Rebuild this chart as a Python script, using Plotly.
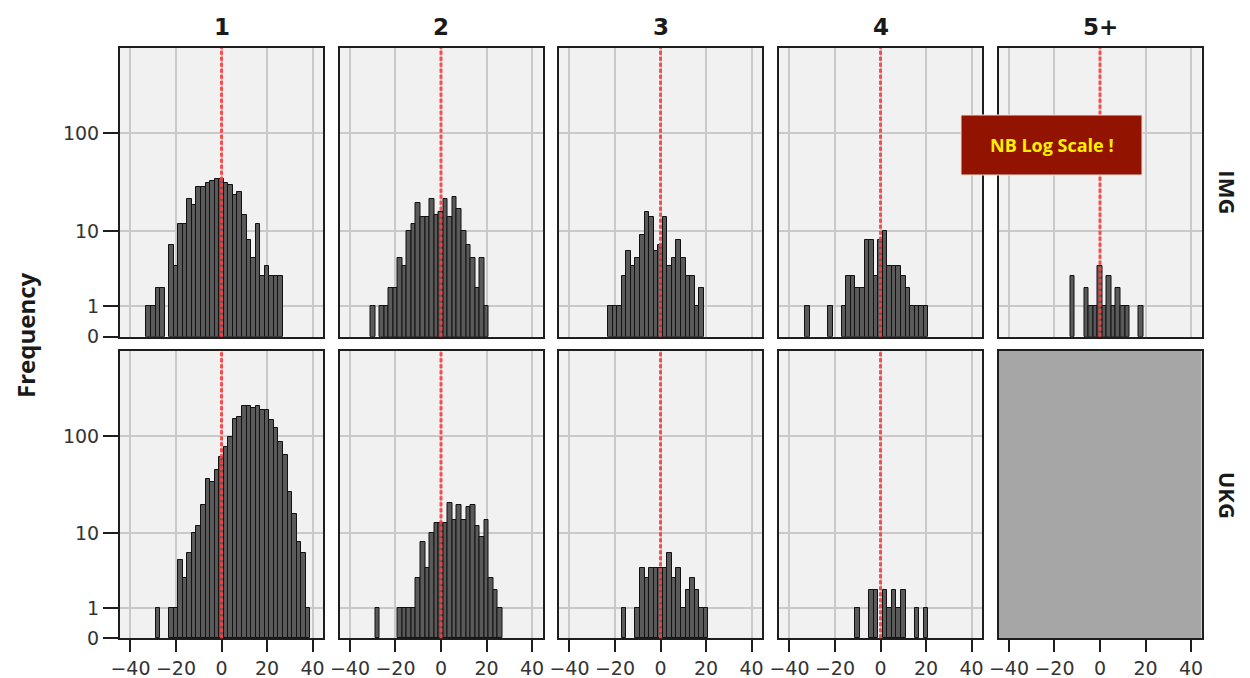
import plotly.graph_objects as go

# ---------------- data ----------------
BIN_CENTERS = list(range(-32, 40, 2))  # -32 .. 38, bin width 2

def counts(d):
    return [d.get(c, 0) for c in BIN_CENTERS]

IMG_1 = counts({-32: 1, -30: 1, -28: 2, -26: 2, -22: 7, -20: 4, -18: 12, -16: 12, -14: 22,
                -12: 19, -10: 29, -8: 29, -6: 32, -4: 33, -2: 35, 0: 35, 2: 32, 4: 30, 6: 24,
                8: 26, 10: 15, 12: 8, 14: 5, 16: 12, 18: 3, 20: 4, 22: 3, 24: 3, 26: 3})
IMG_2 = counts({-30: 1, -26: 1, -24: 1, -22: 2, -20: 2, -18: 5, -16: 4, -14: 10, -12: 12,
                -10: 20, -8: 14, -6: 14, -4: 22, -2: 15, 0: 16, 2: 22, 4: 14, 6: 23, 8: 17,
                10: 10, 12: 7, 14: 5, 16: 2, 18: 5, 20: 1})
IMG_3 = counts({-22: 1, -20: 1, -18: 1, -16: 3, -14: 6, -12: 4, -10: 5, -8: 9, -6: 16, -4: 14,
                -2: 6, 0: 7, 2: 14, 4: 4, 6: 5, 8: 8, 10: 5, 12: 3, 14: 3, 16: 1, 18: 2})
IMG_4 = counts({-32: 1, -22: 1, -16: 1, -14: 3, -12: 3, -10: 2, -8: 2, -6: 8, -4: 8, -2: 3,
                0: 8, 2: 10, 4: 4, 6: 4, 8: 4, 10: 3, 12: 2, 14: 1, 16: 1, 18: 1, 20: 1})
IMG_5 = counts({-12: 3, -6: 2, -4: 1, -2: 1, 0: 4, 2: 1, 4: 3, 6: 1, 8: 2, 10: 1, 12: 1, 18: 1})

UKG_1 = counts({-28: 1, -22: 1, -20: 1, -18: 5, -16: 3, -14: 6, -12: 10, -10: 12, -8: 20,
                -6: 37, -4: 34, -2: 46, 0: 61, 2: 78, 4: 98, 6: 148, 8: 155, 10: 200, 12: 200,
                14: 190, 16: 200, 18: 180, 20: 180, 22: 145, 24: 120, 26: 87, 28: 64, 30: 27,
                32: 16, 34: 8, 36: 6, 38: 1})
UKG_2 = counts({-28: 1, -18: 1, -16: 1, -14: 1, -12: 1, -10: 3, -8: 8, -6: 4, -4: 10, -2: 13,
                0: 13, 2: 13, 4: 21, 6: 14, 8: 20, 10: 14, 12: 19, 14: 20, 16: 12, 18: 9,
                20: 14, 22: 3, 24: 2, 26: 1})
UKG_3 = counts({-16: 1, -10: 1, -8: 4, -6: 3, -4: 4, -2: 4, 0: 4, 2: 4, 4: 6, 6: 3, 8: 4,
                10: 1, 12: 2, 14: 3, 16: 2, 18: 1, 20: 1})
UKG_4 = counts({-10: 1, -4: 2, -2: 2, 2: 2, 4: 1, 6: 2, 8: 1, 10: 2, 16: 1, 20: 1})
UKG_5 = None  # no data (greyed panel)

COLUMNS = ["1", "2", "3", "4", "5+"]
ROWS = ["IMG", "UKG"]
PANELS = [[IMG_1, IMG_2, IMG_3, IMG_4, IMG_5],
          [UKG_1, UKG_2, UKG_3, UKG_4, UKG_5]]

X_TICKS = [-40, -20, 0, 20, 40]
Y_TICKVALS = [1, 2, 11, 101]          # count + 1 on a log axis
Y_TICKTEXT = ["0", "1", "10", "100"]
REF_X = 0
NOTE = "NB Log Scale !"

# ---------------- layout geometry ----------------
W, H = 1250, 678
col_left = [120, 339.5, 559, 779, 998.5]
col_w = 203
row_top = [48, 351]
row_bot = [336.7, 638.3]

FRAME = "#1e1e1e"
GRID = "#c9c9c9"
BG = "#f1f1f1"
BAR = "#5a5a5a"
TICKFONT = dict(family="DejaVu Sans", size=19, color="#333333")

fig = go.Figure()

for r in range(2):
    for c in range(5):
        idx = r * 5 + c + 1
        xa = "x" if idx == 1 else f"x{idx}"
        ya = "y" if idx == 1 else f"y{idx}"
        xkey = "xaxis" if idx == 1 else f"xaxis{idx}"
        ykey = "yaxis" if idx == 1 else f"yaxis{idx}"
        data = PANELS[r][c]
        empty = data is None

        if not empty:
            xs = [b for b, v in zip(BIN_CENTERS, data) if v > 0]
            ys = [v for v in data if v > 0]
            fig.add_trace(go.Bar(
                x=xs, y=ys, base=1, width=2,
                marker=dict(color=BAR, line=dict(color="#111111", width=1)),
                xaxis=xa, yaxis=ya, showlegend=False, hoverinfo="skip"))
        else:
            fig.add_trace(go.Bar(x=[], y=[], xaxis=xa, yaxis=ya, showlegend=False))

        x0 = col_left[c] / W
        x1 = (col_left[c] + col_w) / W
        y0 = (H - row_bot[r]) / H
        y1 = (H - row_top[r]) / H

        fig.layout[xkey] = dict(
            domain=[x0, x1], range=[-44.6, 44.6], anchor=ya, automargin=False,
            tickvals=X_TICKS, showgrid=not empty, gridcolor=GRID, gridwidth=2,
            zeroline=False, showline=True, mirror=True, linecolor=FRAME, linewidth=2,
            ticks="outside" if r == 1 else "", ticklen=12, tickwidth=2, tickcolor=FRAME,
            showticklabels=(r == 1), tickfont=TICKFONT, fixedrange=True)
        fig.layout[ykey] = dict(
            domain=[y0, y1], type="log", range=[0, 2.846], anchor=xa, automargin=False,
            tickvals=Y_TICKVALS, ticktext=Y_TICKTEXT, showgrid=not empty,
            gridcolor=GRID, gridwidth=2, zeroline=False, showline=True, mirror=True,
            linecolor=FRAME, linewidth=2,
            ticks="outside" if c == 0 else "", ticklen=15, tickwidth=2, tickcolor=FRAME,
            showticklabels=(c == 0), tickfont=TICKFONT, fixedrange=True)

        if empty:
            fig.add_shape(type="rect", xref=f"{xa} domain", yref=f"{ya} domain",
                          x0=0, x1=1, y0=0, y1=1, fillcolor="#a6a6a6",
                          line=dict(width=0), layer="below")
        else:
            fig.add_shape(type="line", xref=xa, yref=f"{ya} domain",
                          x0=REF_X, x1=REF_X, y0=0, y1=1,
                          line=dict(color="rgba(255,60,60,0.9)", width=3, dash="4px,2px"),
                          layer="above")

# column titles
for c, name in enumerate(COLUMNS):
    fig.add_annotation(text=f"<b>{name}</b>", x=(col_left[c] + col_w / 2) / W, y=(H - 27) / H,
                       xref="paper", yref="paper", showarrow=False,
                       xanchor="center", yanchor="middle",
                       font=dict(family="DejaVu Sans", size=23, color="#1a1a1a"))

# row labels
for r, name in enumerate(ROWS):
    fig.add_annotation(text=f"<b>{name}</b>", x=1228 / W,
                       y=(H - (row_top[r] + row_bot[r]) / 2) / H,
                       xref="paper", yref="paper", showarrow=False, textangle=90,
                       xanchor="center", yanchor="middle",
                       font=dict(family="Open Sans", size=22, color="#1a1a1a"))

# y axis title
fig.add_annotation(text="<b>Frequency</b>", x=25 / W, y=(H - 335) / H,
                   xref="paper", yref="paper", showarrow=False, textangle=-90,
                   xanchor="center", yanchor="middle",
                   font=dict(family="Open Sans", size=24, color="#1a1a1a"))

# note box
fig.add_shape(type="rect", xref="paper", yref="paper",
              x0=961 / W, x1=1142 / W, y0=(H - 175) / H, y1=(H - 115) / H,
              fillcolor="#921400", line=dict(color="#f4e0dc", width=1), layer="above")
fig.add_annotation(text=f"<b>{NOTE}</b>", x=1051.5 / W, y=(H - 145) / H,
                   xref="paper", yref="paper", showarrow=False,
                   xanchor="center", yanchor="middle",
                   font=dict(family="Open Sans", size=18, color="#ffef00"))

fig.update_layout(width=W, height=H, margin=dict(l=0, r=0, t=0, b=0, autoexpand=False),
                  paper_bgcolor="white", plot_bgcolor=BG, bargap=0,
                  showlegend=False)

fig.write_html("out.html", config={"displayModeBar": False},
               post_script="document.body.style.margin='0';document.body.style.overflow='hidden';")
